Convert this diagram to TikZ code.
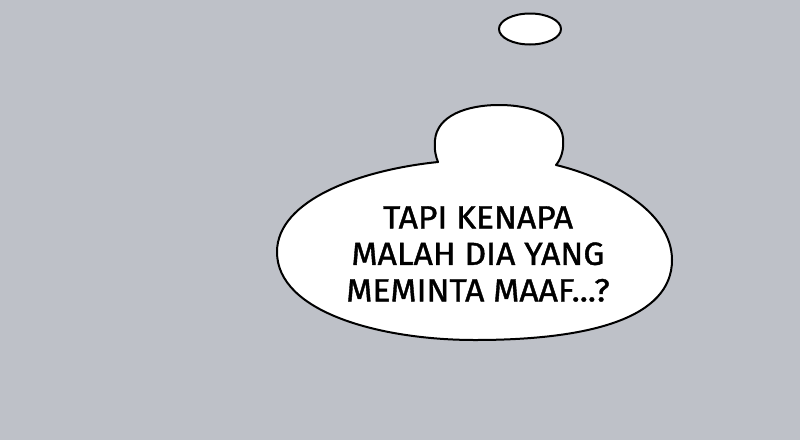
\documentclass[tikz,border=0pt]{standalone}
\usepackage{fontspec}
\setmainfont{Fira Sans}
\newfontfamily\comicfont[FakeStretch=1.05, FakeBold=1.2]{Fira Sans}
\definecolor{bg}{RGB}{190,193,200}
\tikzset{
  bubble/.style={draw=black, fill=white, line width=2pt, line join=round},
  saytext/.style={align=center, font=\comicfont\fontsize{32}{36.5}\selectfont, inner sep=0pt}
}
\begin{document}
\begin{tikzpicture}[x=1pt,y=-1pt]
\useasboundingbox (0,0) rectangle (800,440);
\fill[bg] (0,0) rectangle (800,440);
% small thought ellipse
\draw[bubble] (530,29) ellipse [x radius=31, y radius=15.5];
% main bubble
\draw[bubble] (438,162) .. controls (360,170) and (277,200) .. (277,252)
  .. controls (277,312) and (380,340) .. (475,340)
  .. controls (590,340) and (672,318) .. (672,260)
  .. controls (672,212) and (610,178) .. (556,165)
  .. controls (562,158) and (564,148) .. (563,138)
  .. controls (561,116) and (532,105) .. (499,105)
  .. controls (466,105) and (437,116) .. (435,140)
  .. controls (434,150) and (436,157) .. (438,162) -- cycle;
\node[saytext] (say) at (478,254) {TAPI KENAPA\\MALAH DIA YANG\\MEMINTA MAAF...?};
\end{tikzpicture}
\end{document}
